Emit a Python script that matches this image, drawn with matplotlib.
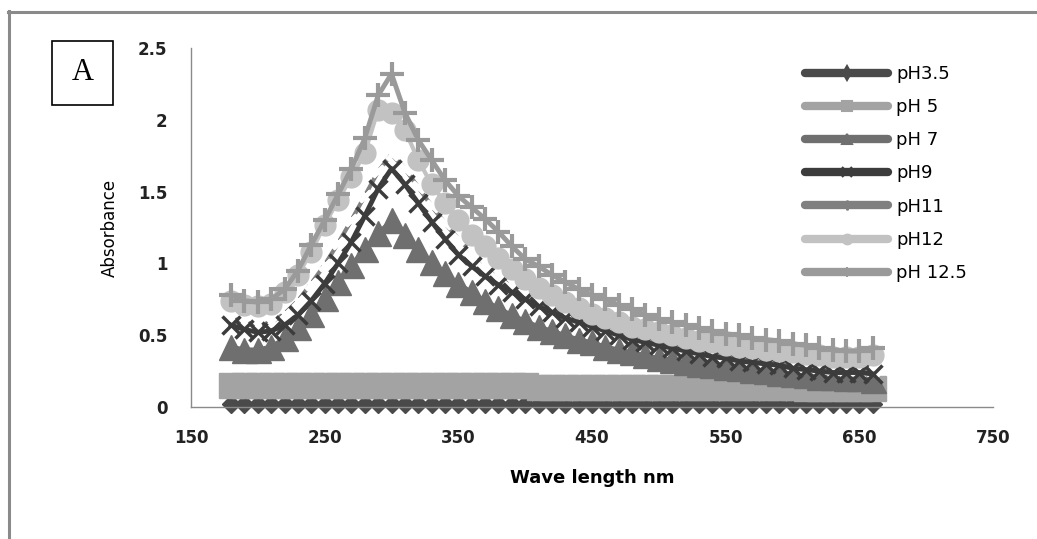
import matplotlib
matplotlib.use("Agg")
import matplotlib.pyplot as plt
from matplotlib.lines import Line2D
from matplotlib.patches import Rectangle

# ---------------- DATA ----------------
wavelength = [180, 190, 200, 210, 220, 230, 240, 250, 260, 270, 280, 290, 300,
              310, 320, 330, 340, 350, 360, 370, 380, 390, 400,
              410, 420, 430, 440, 450, 460, 470, 480, 490, 500,
              510, 520, 530, 540, 550, 560, 570, 580, 590, 600,
              610, 620, 630, 640, 650, 660]

ph3_5 = [0.02, 0.02, 0.02, 0.02, 0.02, 0.02, 0.02, 0.02, 0.02, 0.02, 0.02, 0.02, 0.02,
         0.02, 0.02, 0.02, 0.02, 0.02, 0.02, 0.02, 0.02, 0.02, 0.02,
         0.02, 0.02, 0.02, 0.02, 0.02, 0.02, 0.02, 0.02, 0.02, 0.02,
         0.02, 0.02, 0.02, 0.02, 0.02, 0.02, 0.02, 0.02, 0.02, 0.02,
         0.02, 0.02, 0.02, 0.02, 0.02, 0.02]

ph5 = [0.15, 0.15, 0.15, 0.15, 0.15, 0.15, 0.15, 0.15, 0.15, 0.15, 0.15, 0.15, 0.15,
       0.15, 0.15, 0.15, 0.15, 0.15, 0.15, 0.15, 0.15, 0.15, 0.15,
       0.14, 0.14, 0.14, 0.14, 0.14, 0.14, 0.14, 0.14, 0.14, 0.14,
       0.14, 0.14, 0.14, 0.14, 0.14, 0.14, 0.14, 0.14, 0.14, 0.14,
       0.13, 0.13, 0.13, 0.13, 0.13, 0.13]

ph7 = [0.42, 0.40, 0.40, 0.42, 0.48, 0.56, 0.65, 0.76, 0.87, 0.99, 1.10, 1.21, 1.30,
       1.20, 1.10, 1.01, 0.93, 0.86, 0.80, 0.74, 0.69, 0.64, 0.60,
       0.56, 0.53, 0.50, 0.47, 0.45, 0.42, 0.40, 0.38, 0.36, 0.34,
       0.33, 0.31, 0.30, 0.29, 0.28, 0.27, 0.26, 0.25, 0.24, 0.23,
       0.22, 0.21, 0.21, 0.20, 0.20, 0.19]

ph9 = [0.57, 0.54, 0.52, 0.53, 0.57, 0.64, 0.74, 0.86, 1.00, 1.15, 1.33, 1.52, 1.66,
       1.55, 1.42, 1.29, 1.17, 1.06, 0.98, 0.91, 0.85, 0.80, 0.75,
       0.70, 0.66, 0.62, 0.59, 0.56, 0.53, 0.50, 0.47, 0.45, 0.43,
       0.41, 0.39, 0.37, 0.35, 0.34, 0.32, 0.31, 0.30, 0.29, 0.27,
       0.26, 0.25, 0.24, 0.24, 0.24, 0.23]

ph11 = [0.62, 0.59, 0.57, 0.59, 0.65, 0.74, 0.86, 0.99, 1.14, 1.30, 1.47, 1.64, 1.76,
        1.66, 1.53, 1.40, 1.28, 1.17, 1.08, 1.00, 0.93, 0.87, 0.82,
        0.77, 0.72, 0.68, 0.64, 0.60, 0.56, 0.53, 0.50, 0.47, 0.45,
        0.43, 0.41, 0.39, 0.37, 0.35, 0.34, 0.32, 0.31, 0.30, 0.29,
        0.28, 0.27, 0.26, 0.25, 0.25, 0.25]

ph12 = [0.74, 0.71, 0.70, 0.72, 0.80, 0.92, 1.08, 1.27, 1.44, 1.60, 1.77, 2.07, 2.05,
        1.93, 1.72, 1.55, 1.42, 1.30, 1.20, 1.12, 1.04, 0.96, 0.89,
        0.83, 0.78, 0.73, 0.69, 0.65, 0.62, 0.59, 0.56, 0.54, 0.52,
        0.50, 0.48, 0.46, 0.45, 0.43, 0.42, 0.41, 0.40, 0.39, 0.38,
        0.37, 0.36, 0.35, 0.35, 0.35, 0.36]

ph12_5 = [0.78, 0.74, 0.73, 0.75, 0.82, 0.95, 1.13, 1.30, 1.48, 1.66, 1.87, 2.17, 2.32,
          2.05, 1.86, 1.72, 1.58, 1.47, 1.39, 1.31, 1.22, 1.12, 1.03,
          0.98, 0.92, 0.87, 0.82, 0.78, 0.75, 0.71, 0.68, 0.64, 0.61,
          0.59, 0.57, 0.55, 0.53, 0.51, 0.50, 0.48, 0.47, 0.46, 0.44,
          0.43, 0.41, 0.40, 0.39, 0.39, 0.41]

labels = ["pH3.5", "pH 5", "pH 7", "pH9", "pH11", "pH12", "pH 12.5"]
colors = ["#4a4a4a", "#a3a3a3", "#6f6f6f", "#3c3c3c", "#808080", "#c2c2c2", "#9a9a9a"]

# ---------------- FIGURE ----------------
fig = plt.figure(figsize=(10.37, 5.39), dpi=100)
ax = fig.add_axes([191 / 1037, 1 - 407 / 539, 802 / 1037, 359 / 539])

# pH3.5 - diamonds
ax.plot(wavelength, ph3_5, color=colors[0], lw=3, marker="D", ms=9,
        clip_on=False)
# pH 5 - squares
ax.plot(wavelength, ph5, color=colors[1], lw=3, marker="s", ms=18,
        clip_on=False)
# pH 7 - triangles
ax.plot(wavelength, ph7, color=colors[2], lw=3, marker="^", ms=18,
        clip_on=False)
# pH11 - asterisks (they come out white-ish in the scan)
ax.plot(wavelength, ph11, color=colors[4], lw=3, clip_on=False)
ax.plot(wavelength, ph11, ls="none", marker=(4, 2, 45), ms=11, mew=3,
        mec="white", clip_on=False)
# pH9 - crosses
ax.plot(wavelength, ph9, color=colors[3], lw=3.5, marker="x", ms=13, mew=2.5,
        clip_on=False)
# pH12 - circles
ax.plot(wavelength, ph12, color=colors[5], lw=3, marker="o", ms=15,
        clip_on=False)
# pH 12.5 - plus
ax.plot(wavelength, ph12_5, color=colors[6], lw=3.5, marker="+", ms=17, mew=3,
        clip_on=False)

ax.set_xlim(150, 750)
ax.set_ylim(0, 2.5)
ax.set_xticks([150, 250, 350, 450, 550, 650, 750])
ax.set_yticks([0, 0.5, 1, 1.5, 2, 2.5])
ax.set_yticklabels(["0", "0.5", "1", "1.5", "2", "2.5"])
ax.tick_params(length=0, labelsize=12, colors="#222222")
ax.tick_params(axis="y", pad=17)
ax.tick_params(axis="x", pad=16)
for lab in ax.get_xticklabels() + ax.get_yticklabels():
    lab.set_fontweight("bold")

for s in ["top", "right"]:
    ax.spines[s].set_visible(False)
for s in ["left", "bottom"]:
    ax.spines[s].set_color("#8a8a8a")
    ax.spines[s].set_linewidth(1)

ax.set_ylabel("Absorbance", fontsize=12, labelpad=14)
ax.set_xlabel("Wave length nm", fontsize=13, fontweight="bold", labelpad=16)

# ---------------- LEGEND ----------------
leg_markers = ["d", "s", "^", "x", (6, 2, 0), "o", "|"]
handles = [Line2D([0], [0], color=c, lw=6, solid_capstyle="round", marker=m,
                  ms=7, mew=1.5, mec=c)
           for c, m in zip(colors, leg_markers)]
fig.legend(handles, labels, loc="upper left",
           bbox_to_anchor=(805 / 1037, 1 - 65 / 539), frameon=False,
           fontsize=13, handlelength=4.6, handletextpad=0.45,
           labelspacing=0.84, borderpad=0, borderaxespad=0)

# ---------------- FRAME + PANEL LABEL ----------------
fig.add_artist(Line2D([9 / 1037, 9 / 1037], [0, 1 - 11 / 539],
                      color="#8a8a8a", lw=2.2, transform=fig.transFigure))
fig.add_artist(Line2D([8 / 1037, 1], [1 - 12 / 539, 1 - 12 / 539],
                      color="#8a8a8a", lw=2.2, transform=fig.transFigure))
fig.add_artist(Rectangle((52 / 1037, 1 - 105 / 539), 61 / 1037, 64 / 539,
                         fill=False, ec="black", lw=1.2,
                         transform=fig.transFigure))
fig.text(82.5 / 1037, 1 - 73 / 539, "A", fontsize=22, family="Liberation Serif",
         ha="center", va="center")

fig.savefig("out.png", dpi=100)
